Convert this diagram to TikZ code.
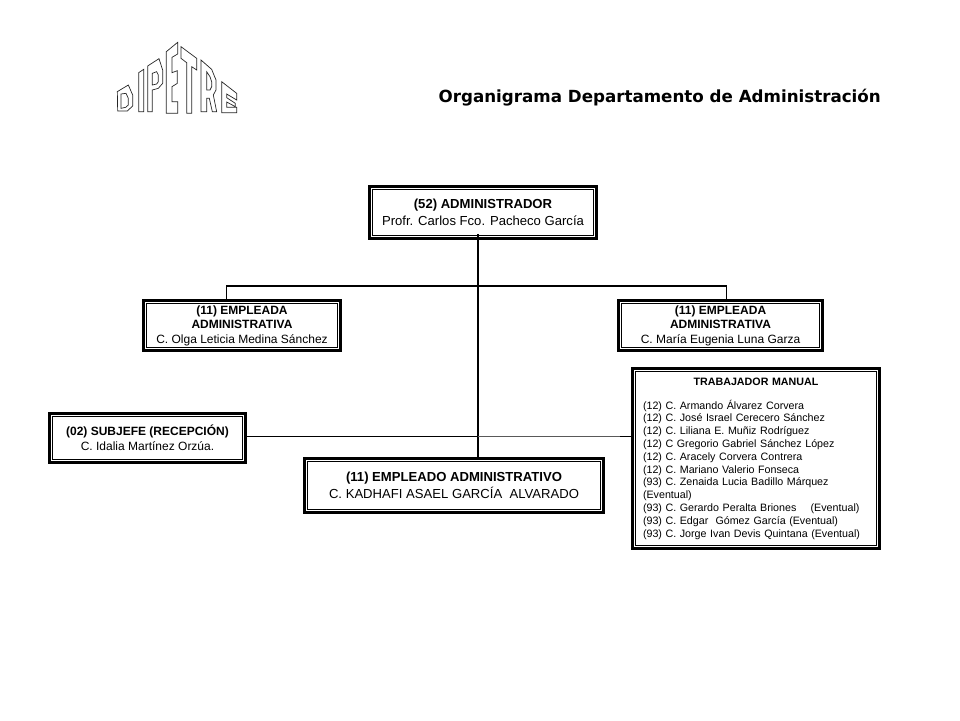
\documentclass[tikz,border=0pt]{standalone}
\usepackage{fontspec}
\setmainfont{Liberation Sans}
\newfontfamily\titlefont{DejaVu Sans}
\newcommand\innerframe[1]{\draw[innerline] ([shift={(4.5pt,-4.5pt)}]#1.north west) rectangle ([shift={(-4.5pt,4.5pt)}]#1.south east);}
\tikzset{
  x=1pt,y=-1pt,
  orgbox/.style={draw=black,fill=white,line width=3pt,inner sep=0pt,align=center},
  innerline/.style={draw=black,line width=1pt},
  big/.style={font=\fontsize{13.1}{16.5}\selectfont},
  mid/.style={font=\fontsize{12}{14.6}\selectfont},
  small/.style={font=\fontsize{10.7}{12.8}\selectfont},
  bar/.style={draw=black,line width=2pt},
  thinbar/.style={draw=black,line width=1.7pt},
  greybar/.style={draw=black!65,line width=1pt},
  logo/.style={draw=black!85,line width=0.7pt,fill=white,even odd rule,line join=miter},
}
\begin{document}
\begin{tikzpicture}
\useasboundingbox (0,0) rectangle (960,720);
% logo (zoomed coordinates: x=90+X/3, y=30+Y/3)
\begin{scope}[shift={(90,30)},x=0.3333pt,y=-0.3333pt]
\path[logo] (82,185)--(115,165)--(128,195)--(128,228)--(112,243)--(83,243)--cycle
  (93,192)--(108,190)--(115,205)--(115,225)--(107,232)--(93,235)--cycle;
\path[logo] (146,128)--(161,118)--(161,245)--(146,245)--cycle;
\path[logo] (173,108)--(207,86)--(218,120)--(218,160)--(205,175)--(187,180)--(187,245)--(173,245)--cycle
  (187,130)--(200,125)--(205,135)--(205,155)--(200,162)--(187,165)--cycle;
\path[logo] (229,65)--(263,37)--(263,72)--(246,82)--(246,128)--(262,122)--(262,160)--(246,170)--(246,215)--(263,215)--(263,250)--(229,250)--cycle;
\path[logo] (273,50)--(320,85)--(320,120)--(305,110)--(305,250)--(290,250)--(290,98)--(273,85)--cycle;
\path[logo] (333,90)--(365,118)--(378,150)--(378,180)--(370,195)--(380,245)--(367,245)--(358,205)--(350,205)--(350,245)--(333,245)--cycle
  (350,125)--(360,140)--(365,155)--(365,170)--(360,180)--(350,180)--cycle;
\path[logo] (395,155)--(440,190)--(440,210)--(410,192)--(410,203)--(436,220)--(436,230)--(410,216)--(410,232)--(440,232)--(440,248)--(395,248)--cycle;
\end{scope}
\node[font=\titlefont\bfseries\fontsize{16.7}{20}\selectfont,inner sep=0pt,anchor=mid east] (title) at (881,100) {Organigrama Departamento de Administración};
% connector waypoints
\coordinate (vtop) at (477.5,234);
\coordinate (busL) at (226.5,286);
\coordinate (busR) at (726.5,286);
\coordinate (linkY) at (0,436.5);
\coordinate (linkM) at (477.5,436.5);
\coordinate (linkF) at (620,436.5);
% boxes
\node[orgbox,big,minimum width=227pt,minimum height=52pt] (adm) at (483,212.5)
  {\textbf{(52) ADMINISTRADOR}\\Profr. Carlos Fco. Pacheco García};
\node[orgbox,mid,minimum width=197pt,minimum height=50pt] (left) at (242,325.5)
  {\textbf{(11) EMPLEADA}\\\textbf{ADMINISTRATIVA}\\C. Olga Leticia Medina Sánchez};
\node[orgbox,mid,minimum width=204pt,minimum height=50pt] (right) at (720.5,325.5)
  {\textbf{(11) EMPLEADA}\\\textbf{ADMINISTRATIVA}\\C. María Eugenia Luna Garza};
\node[orgbox,mid,minimum width=196pt,minimum height=49pt] (sub) at (147.5,437.5)
  {\textbf{(02) SUBJEFE (RECEPCIÓN)}\\C. Idalia Martínez Orzúa.};
\node[orgbox,big,minimum width=299pt,minimum height=54pt] (emp) at (454,485.5)
  {\textbf{(11) EMPLEADO ADMINISTRATIVO}\\C. KADHAFI ASAEL GARCÍA\ \ ALVARADO};
\node[orgbox,small,minimum width=247pt,minimum height=180pt,align=left,text width=226pt] (man) at (756,458.5)
  {\makebox[226pt][c]{\textbf{TRABAJADOR MANUAL}}\\[11pt]
   (12) C. Armando Álvarez Corvera\\
   (12) C. José Israel Cerecero Sánchez\\
   (12) C. Liliana E. Muñiz Rodríguez\\
   (12) C Gregorio Gabriel Sánchez López\\
   (12) C. Aracely Corvera Contrera\\
   (12) C. Mariano Valerio Fonseca\\
   (93) C. Zenaida Lucia Badillo Márquez\\
   (Eventual)\\
   (93) C. Gerardo Peralta Briones\ \ \ \ (Eventual)\\
   (93) C. Edgar\ \ Gómez García (Eventual)\\
   (93) C. Jorge Ivan Devis Quintana (Eventual)};
\innerframe{adm}
\innerframe{left}
\innerframe{right}
\innerframe{sub}
\innerframe{emp}
\innerframe{man}
% connectors
\draw[bar] (vtop) -- (vtop |- emp.north);
\draw[thinbar,line join=miter] (busL |- left.north) -- (busL) -- (busR) -- (busR |- right.north);
\draw[thinbar] (sub.east |- linkY) -- (linkM);
\draw[greybar] (linkM) -- (linkF);
\draw[black,line width=1pt] (linkF) -- (man.west |- linkF);
\end{tikzpicture}
\end{document}
